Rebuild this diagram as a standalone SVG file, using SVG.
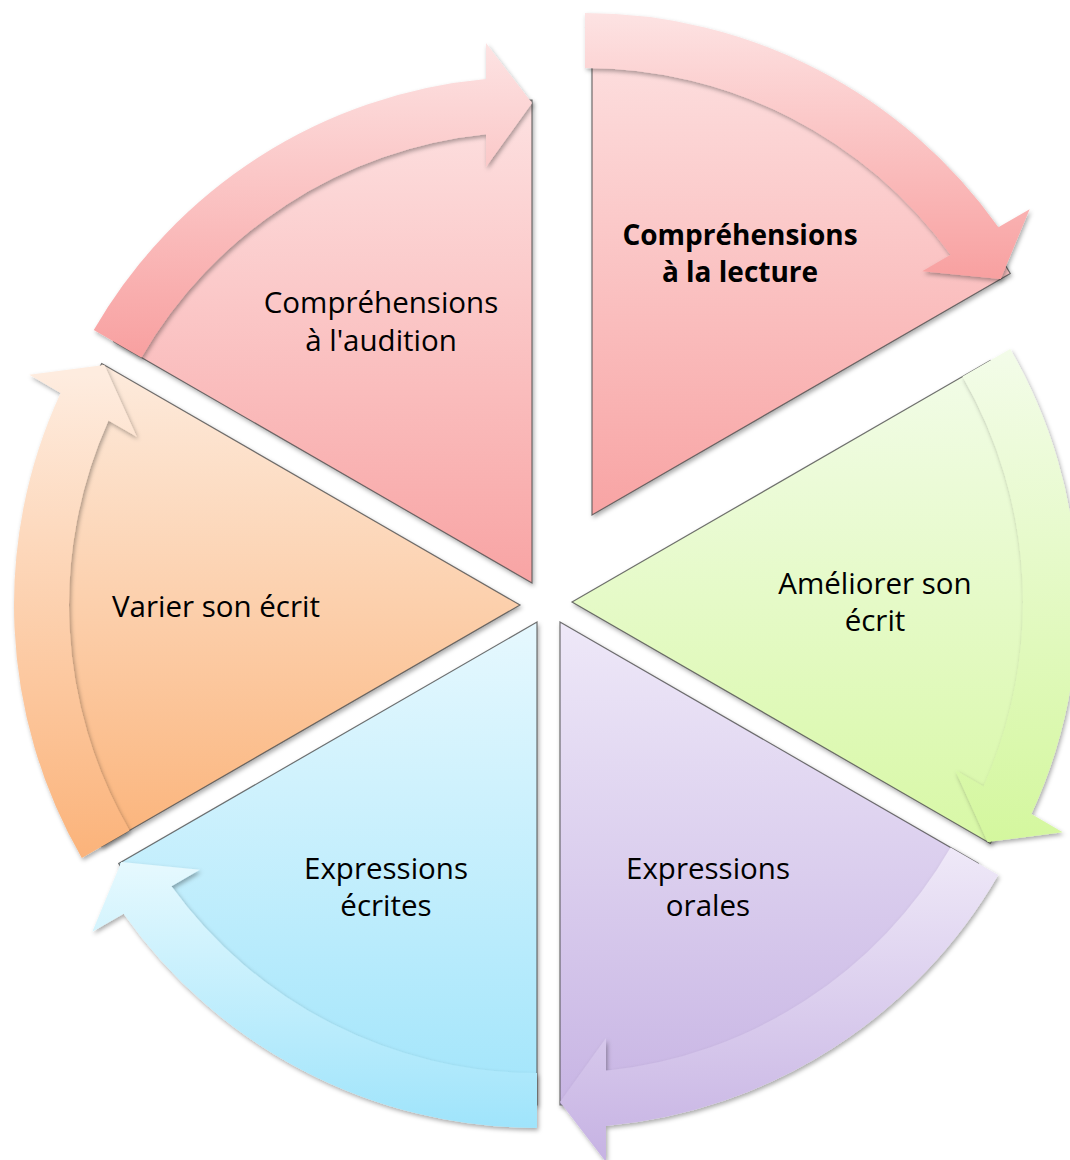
<svg xmlns="http://www.w3.org/2000/svg" xmlns:xlink="http://www.w3.org/1999/xlink" width="1070" height="1160" viewBox="0 0 1070 1160">
<style>
.lbl{font-family:"Open Sans","Liberation Sans",sans-serif;font-size:29.5px;fill:#000;text-anchor:middle}
.bold{font-weight:bold;font-size:28px}
.edge{stroke:#4d4d4d;stroke-width:1.2;stroke-opacity:0.8;stroke-linejoin:miter}
</style>
<defs>
<filter id="sh" x="-10%" y="-10%" width="125%" height="125%">
<feDropShadow dx="1.5" dy="2.5" stdDeviation="2" flood-color="#000" flood-opacity="0.33"/>
</filter>
<path id="wedge" d="M0,0 L-418.29,-241.5 A483,483 0 0,1 0,-483 Z"/>
<path id="arrow" d="M-438.21,-253 A506,506 0 0,1 -46,-503.9 L-46,-540 L0,-480 L-46,-416 L-46,-448.65 A451,451 0 0,0 -390.58,-225.5 Z"/>
<!-- wedge gradients (apex-relative screen verticals, counter-rotated) -->
<linearGradient id="gw0" gradientUnits="userSpaceOnUse" x1="0" y1="-483" x2="0" y2="0"><stop offset="0" stop-color="#fde1e1"/><stop offset="1" stop-color="#f8a4a4"/></linearGradient>
<linearGradient id="gw1" gradientUnits="userSpaceOnUse" x1="0" y1="-483" x2="0" y2="0" gradientTransform="rotate(-60)"><stop offset="0" stop-color="#fde1e1"/><stop offset="1" stop-color="#f8a4a4"/></linearGradient>
<linearGradient id="gw2" gradientUnits="userSpaceOnUse" x1="0" y1="-241.5" x2="0" y2="241.5" gradientTransform="rotate(-120)"><stop offset="0" stop-color="#f2fce8"/><stop offset="1" stop-color="#d8f8a6"/></linearGradient>
<linearGradient id="gw3" gradientUnits="userSpaceOnUse" x1="0" y1="0" x2="0" y2="483" gradientTransform="rotate(-180)"><stop offset="0" stop-color="#eee8f8"/><stop offset="1" stop-color="#c8b5e4"/></linearGradient>
<linearGradient id="gw4" gradientUnits="userSpaceOnUse" x1="0" y1="0" x2="0" y2="483" gradientTransform="rotate(-240)"><stop offset="0" stop-color="#e6f8fe"/><stop offset="1" stop-color="#a2e5fb"/></linearGradient>
<linearGradient id="gw5" gradientUnits="userSpaceOnUse" x1="0" y1="-241.5" x2="0" y2="241.5" gradientTransform="rotate(-300)"><stop offset="0" stop-color="#fdebdd"/><stop offset="1" stop-color="#fbb47b"/></linearGradient>
<!-- arrow gradients -->
<linearGradient id="ga0" gradientUnits="userSpaceOnUse" x1="0" y1="-540" x2="0" y2="-225"><stop offset="0" stop-color="#fde3e3"/><stop offset="1" stop-color="#f8a0a0"/></linearGradient>
<linearGradient id="ga1" gradientUnits="userSpaceOnUse" x1="0" y1="-506" x2="0" y2="-240" gradientTransform="rotate(-60)"><stop offset="0" stop-color="#fde3e3"/><stop offset="1" stop-color="#f8a0a0"/></linearGradient>
<linearGradient id="ga2" gradientUnits="userSpaceOnUse" x1="0" y1="-253" x2="0" y2="240" gradientTransform="rotate(-120)"><stop offset="0" stop-color="#f3fce9"/><stop offset="1" stop-color="#d4f79e"/></linearGradient>
<linearGradient id="ga3" gradientUnits="userSpaceOnUse" x1="0" y1="225" x2="0" y2="540" gradientTransform="rotate(-180)"><stop offset="0" stop-color="#efe9f8"/><stop offset="1" stop-color="#c6b2e3"/></linearGradient>
<linearGradient id="ga4" gradientUnits="userSpaceOnUse" x1="0" y1="240" x2="0" y2="506" gradientTransform="rotate(-240)"><stop offset="0" stop-color="#e6f9fe"/><stop offset="1" stop-color="#9fe4fb"/></linearGradient>
<linearGradient id="ga5" gradientUnits="userSpaceOnUse" x1="0" y1="-230" x2="0" y2="253" gradientTransform="rotate(-300)"><stop offset="0" stop-color="#feecdf"/><stop offset="1" stop-color="#fbb37a"/></linearGradient>
</defs>
<rect width="1070" height="1160" fill="#fff"/>

<g id="seg-audition">
<g filter="url(#sh)"><use xlink:href="#wedge" class="edge" fill="url(#gw0)" transform="translate(532,583)"/></g>
<text class="lbl" x="381" y="313">Compréhensions</text>
<text class="lbl" x="381" y="350.5">à l'audition</text>
</g>

<g id="seg-lecture">
<g filter="url(#sh)"><use xlink:href="#wedge" class="edge" fill="url(#gw1)" transform="translate(592,515) rotate(60)"/></g>
<text class="lbl bold" x="740" y="245">Compréhensions</text>
<text class="lbl bold" x="740" y="282">à la lecture</text>
</g>

<g id="seg-ameliorer">
<g filter="url(#sh)"><use xlink:href="#wedge" class="edge" fill="url(#gw2)" transform="translate(572,602) rotate(120)"/></g>
<text class="lbl" x="875" y="594">Améliorer son</text>
<text class="lbl" x="875" y="631">écrit</text>
</g>

<g id="seg-orales">
<g filter="url(#sh)"><use xlink:href="#wedge" class="edge" fill="url(#gw3)" transform="translate(560,622) rotate(180)"/></g>
<text class="lbl" x="708" y="879">Expressions</text>
<text class="lbl" x="708" y="916">orales</text>
</g>

<g id="seg-ecrites">
<g filter="url(#sh)"><use xlink:href="#wedge" class="edge" fill="url(#gw4)" transform="translate(537,622) rotate(240)"/></g>
<text class="lbl" x="386" y="879">Expressions</text>
<text class="lbl" x="386" y="916">écrites</text>
</g>

<g id="seg-varier">
<g filter="url(#sh)"><use xlink:href="#wedge" class="edge" fill="url(#gw5)" transform="translate(520,605) rotate(300)"/></g>
<text class="lbl" x="216" y="617">Varier son écrit</text>
</g>

<g id="connectors">
<g filter="url(#sh)"><use xlink:href="#arrow" fill="url(#ga0)" transform="translate(532,583)"/></g>
<g filter="url(#sh)"><use xlink:href="#arrow" fill="url(#ga1)" transform="translate(585,519) rotate(60)"/></g>
<g filter="url(#sh)"><use xlink:href="#arrow" fill="url(#ga2)" transform="translate(572,602) rotate(120)"/></g>
<g filter="url(#sh)"><use xlink:href="#arrow" fill="url(#ga3)" transform="translate(560,622) rotate(180)"/></g>
<g filter="url(#sh)"><use xlink:href="#arrow" fill="url(#ga4)" transform="translate(537,622) rotate(240)"/></g>
<g filter="url(#sh)"><use xlink:href="#arrow" fill="url(#ga5)" transform="translate(520,605) rotate(300)"/></g>
</g>
</svg>
